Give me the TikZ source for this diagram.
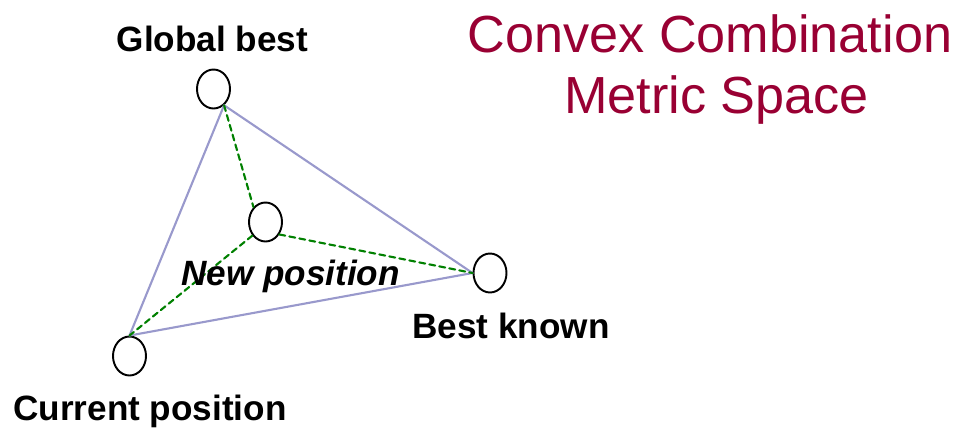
\documentclass[tikz,border=0pt]{standalone}
\usepackage{fontspec}
\setmainfont{Liberation Sans}
\usetikzlibrary{shapes.geometric}
\definecolor{hull}{RGB}{153,153,204}
\definecolor{mix}{RGB}{0,128,0}
\definecolor{headline}{RGB}{153,0,51}

\begin{document}
\begin{tikzpicture}[line cap=round,line join=round,
    spot/.style={draw,ellipse,line width=1.1pt,inner sep=0pt,
      minimum width=0.66cm,minimum height=0.78cm},
    tag/.style={anchor=base,inner sep=0pt,font=\fontsize{20}{24}\selectfont\bfseries},
    edge/.style={hull,line width=1.2pt},
    blend/.style={mix,line width=1.2pt,dash pattern=on 3.4pt off 2.4pt}]
  \useasboundingbox (0,0) rectangle (19.2,8.56);

  \node[spot] (gb) at (4.27,6.78) {};
  \node[spot] (np) at (5.31,4.12) {};
  \node[spot] (bk) at (9.80,3.10) {};
  \node[spot] (cp) at (2.59,1.44) {};

  \draw[edge] (gb.-57) -- (bk.west) -- (cp.north) -- cycle;
  \draw[blend] (gb.-57) -- (np.129);
  \draw[blend] (np.-134) -- (cp.north);
  \draw[blend] (np.-42) -- (bk.west);

  \node[tag] (gbtext) at (4.25,7.54) {Global best};
  \node[tag,font=\fontsize{20}{24}\selectfont\bfseries\itshape] (nptext) at (5.81,2.86) {New position};
  \node[tag] (bktext) at (10.22,1.80) {Best known};
  \node[tag] (cptext) at (3.00,0.16) {Current position};

  \node[anchor=base,inner sep=0pt,headline,font=\fontsize{29.7}{34.6}\selectfont] (title) at (14.20,7.52) {Convex Combination};
  \node[anchor=base,inner sep=0pt,headline,font=\fontsize{29.7}{34.6}\selectfont] (subtitle) at (14.33,6.30) {Metric Space};
\end{tikzpicture}
\end{document}
